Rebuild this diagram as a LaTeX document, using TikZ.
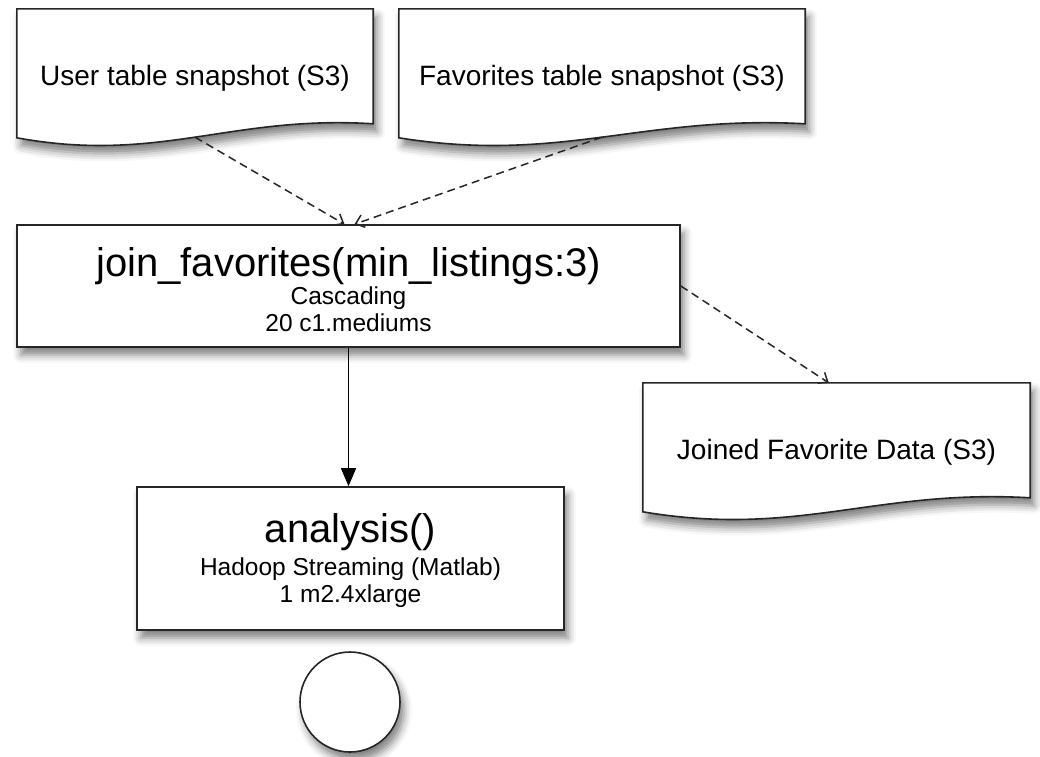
\documentclass[tikz,border=0pt]{standalone}
\usepackage{fontspec}
\setmainfont{Liberation Sans}
\usetikzlibrary{calc,arrows.meta,shadows.blur}
\tikzset{
  softshadow/.style={blur shadow={shadow xshift=4pt,shadow yshift=-8pt,shadow blur radius=8pt,shadow opacity=50}},
  jobbox/.style={draw=black!85,line width=1.6pt,fill=white,softshadow,align=center,inner sep=0pt,font=\fontsize{24.5}{27.5}\selectfont},
  docframe/.style={inner sep=0pt,minimum height=138pt},
  doctext/.style={inner sep=0pt,font=\fontsize{28}{32}\selectfont},
  docline/.style={draw=black!85,line width=1.6pt,fill=white,softshadow},
  flow/.style={draw=black!85,line width=1.5pt,dash pattern=on 8pt off 5pt,-{Straight Barb[length=8pt,width=13pt]}},
  call/.style={draw=black,line width=1.4pt,-{Triangle[length=18pt,width=15pt]}},
  stopdot/.style={circle,draw=black!85,line width=1.6pt,fill=white,softshadow,minimum size=100pt,inner sep=0pt}
}
\newcommand{\jobtitle}[1]{{\fontsize{40}{44}\selectfont #1}}
\newcommand{\toppad}[1]{\rule{0pt}{#1}}
\begin{document}
\begin{tikzpicture}[x=1pt,y=-1pt]
\useasboundingbox (0,0) rectangle (1040,756);
% data on S3
\node[docframe,minimum width=356pt] (user) at (195,78) {};
\node[docframe,minimum width=406pt] (favs) at (602,78) {};
\node[docframe,minimum width=387pt] (joined) at (836.5,452) {};
\foreach \d in {user,favs,joined}
  \draw[docline] (\d.north west) -- (\d.north east) -- ($(\d.north east)+(0,115)$)
    .. controls ($(\d.north west)!0.6!(\d.north east)+(0,106)$) and ($(\d.north west)!0.4!(\d.north east)+(0,155)$)
    .. coordinate[pos=0.5] (\d-out) ($(\d.north west)+(0,129)$) -- cycle;
\node[doctext] (user-text) at (user) {User table snapshot (S3)};
\node[doctext] (favs-text) at (favs) {Favorites table snapshot (S3)};
\node[doctext] (joined-text) at (joined) {Joined Favorite Data (S3)};
% jobs
\node[jobbox,minimum width=663pt,minimum height=122pt] (join) at (348.5,286) {\toppad{37pt}\jobtitle{join\_favorites(min\_listings:3)}\\Cascading\\20 c1.mediums};
\node[jobbox,minimum width=427pt,minimum height=143pt] (analysis) at (350.5,558.5) {\toppad{33.5pt}\jobtitle{analysis()}\\[5.5pt]Hadoop Streaming (Matlab)\\1 m2.4xlarge};
\node[stopdot] (done) at (350,702) {};
% connectors
\draw[flow] (user-out) -- ($(join.north)+(-4,0)$);
\draw[flow] (favs-out) -- ($(join.north)+(6,0)$);
\draw[flow] (join.east) -- ($(joined.north west)!0.48!(joined.north east)$);
\draw[call] (join.south) -- (join.south |- analysis.north);
\end{tikzpicture}
\end{document}
